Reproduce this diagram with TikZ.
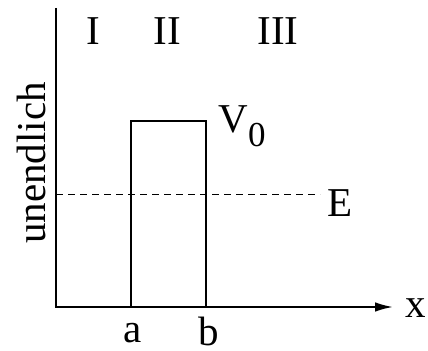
\documentclass[tikz,border=0pt]{standalone}
\usepackage{fontspec}
\setmainfont{Liberation Serif}
\usepackage{tikz}
\usetikzlibrary{arrows.meta,positioning}
\tikzset{
  % solid strokes of axes and barrier
  wall/.style  = {line width=1pt, black},
  axis/.style  = {line width=1pt, black, -{Latex[length=9pt,width=4.8pt]}},
  level/.style = {line width=0.5pt, black, dash pattern=on 3.5pt off 2.5pt},
  lbl/.style   = {font=\fontsize{20.5}{24}\selectfont, inner sep=0pt},
}
\begin{document}
\begin{tikzpicture}[x=0.5pt,y=-0.5pt]
\useasboundingbox (0,0) rectangle (428,351);
\coordinate (ytop) at (56,8);
\coordinate (O)    at (56,307);
\coordinate (xend) at (393,307);
\coordinate (A)    at (131,307);
\coordinate (B)    at (206,307);
\coordinate (At)   at (131,121);
\coordinate (Bt)   at (206,121);
\coordinate (E0)   at (56,195);
\coordinate (E1)   at (320,195);
\draw[axis] (ytop) -- (O) -- (xend);
\draw[wall] (A) -- (At) -- (Bt) -- (B);
\draw[level] (E0) -- (E1);
\node[lbl, anchor=base] (r1) at (93,45)  {I};
\node[lbl, anchor=base] (r2) at (167,45) {II};
\node[lbl, anchor=base] (r3) at (278,45) {III};
\node[lbl, anchor=base west] (v0) at (218,133) {V\raisebox{-0.34em}{\fontsize{17.5}{20}\selectfont 0}};
\node[lbl, anchor=base west] (en) at (327,217) {E};
\node[lbl, anchor=base west] (xl) at (405,318) {x};
\node[lbl, anchor=base] (la) at (133,343) {a};
\node[lbl, anchor=base] (lb) at (209,346) {b};
\node[lbl, anchor=base, rotate=90] (inf) at (45,163) {unendlich};
\end{tikzpicture}
\end{document}
